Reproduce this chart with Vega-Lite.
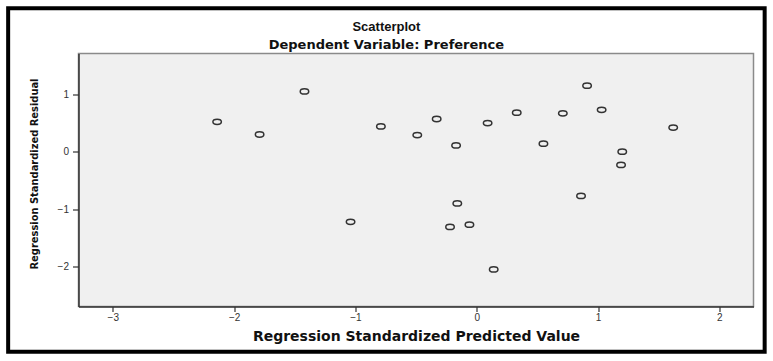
{
  "$schema": "https://vega.github.io/schema/vega-lite/v6.json",
  "autosize": "none",
  "width": 675,
  "height": 253,
  "padding": {"left": 78.5, "top": 53.5, "right": 19.5, "bottom": 54.5},
  "background": "white",
  "title": {
    "text": "Scatterplot",
    "subtitle": "Dependent Variable: Preference",
    "anchor": "middle",
    "frame": "bounds",
    "offset": -46,
    "font": "Liberation Sans",
    "fontSize": 13,
    "fontWeight": "bold",
    "color": "#111",
    "subtitleFont": "DejaVu Sans",
    "subtitleFontSize": 13,
    "subtitleFontWeight": "bold",
    "subtitleColor": "#111",
    "subtitlePadding": 5
  },
  "config": {
    "view": {"fill": "#f0f0f0", "stroke": "#8a8a8a", "strokeWidth": 1.5}
  },
  "datasets": {
    "points": [
      {"predicted": -2.14, "residual": 0.52},
      {"predicted": -1.79, "residual": 0.30},
      {"predicted": -1.42, "residual": 1.05},
      {"predicted": -1.04, "residual": -1.22},
      {"predicted": -0.79, "residual": 0.44},
      {"predicted": -0.49, "residual": 0.29},
      {"predicted": -0.33, "residual": 0.57},
      {"predicted": -0.22, "residual": -1.31},
      {"predicted": -0.17, "residual": 0.11},
      {"predicted": -0.16, "residual": -0.90},
      {"predicted": -0.06, "residual": -1.27},
      {"predicted": 0.09, "residual": 0.50},
      {"predicted": 0.14, "residual": -2.05},
      {"predicted": 0.33, "residual": 0.68},
      {"predicted": 0.55, "residual": 0.14},
      {"predicted": 0.71, "residual": 0.67},
      {"predicted": 0.86, "residual": -0.77},
      {"predicted": 0.91, "residual": 1.15},
      {"predicted": 1.03, "residual": 0.73},
      {"predicted": 1.19, "residual": -0.23},
      {"predicted": 1.20, "residual": 0.00},
      {"predicted": 1.62, "residual": 0.42}
    ],
    "frame": [{"name": "outer frame"}]
  },
  "layer": [
    {
      "data": {"name": "points"},
      "mark": {
        "type": "point",
        "shape": "M-1,0A1,0.62,0,1,0,1,0A1,0.62,0,1,0,-1,0Z",
        "size": 72,
        "filled": false,
        "stroke": "#333",
        "strokeWidth": 1.5,
        "opacity": 1
      },
      "encoding": {
        "x": {
          "field": "predicted",
          "type": "quantitative",
          "scale": {"domain": [-3.283, 2.282], "nice": false, "zero": false},
          "axis": {
            "title": "Regression Standardized Predicted Value",
            "values": [-3, -2, -1, 0, 1, 2],
            "format": "d",
            "grid": false,
            "domainColor": "#333",
            "domainWidth": 1.5,
            "tickColor": "#333",
            "tickWidth": 1.2,
            "tickSize": 5,
            "labelFont": "Liberation Sans",
            "labelFontSize": 10,
            "labelColor": "#333",
            "labelPadding": 1,
            "titleFont": "DejaVu Sans",
            "titleFontSize": 14,
            "titleFontWeight": "bold",
            "titleColor": "#111",
            "titlePadding": 7
          }
        },
        "y": {
          "field": "residual",
          "type": "quantitative",
          "scale": {"domain": [-2.696, 1.711], "nice": false, "zero": false},
          "axis": {
            "title": "Regression Standardized Residual",
            "values": [-2, -1, 0, 1],
            "format": "d",
            "grid": false,
            "domainColor": "#333",
            "domainWidth": 1.5,
            "tickColor": "#333",
            "tickWidth": 1.2,
            "tickSize": 6,
            "labelFont": "Liberation Sans",
            "labelFontSize": 10,
            "labelColor": "#333",
            "labelPadding": 4,
            "titleFont": "Liberation Sans Narrow, DejaVu Sans Condensed",
            "titleFontSize": 11,
            "titleFontWeight": "bold",
            "titleColor": "#111",
            "titlePadding": 18,
            "titleY": 120
          }
        }
      }
    },
    {
      "data": {"name": "frame"},
      "mark": {"type": "rect", "fill": "transparent", "stroke": "black", "strokeWidth": 4},
      "encoding": {
        "x": {"datum": -3.863, "type": "quantitative", "scale": {"domain": [-3.283, 2.282], "nice": false, "zero": false}},
        "x2": {"datum": 2.374},
        "y": {"datum": 2.499, "type": "quantitative", "scale": {"domain": [-2.696, 1.711], "nice": false, "zero": false}},
        "y2": {"datum": -3.483}
      }
    }
  ]
}
